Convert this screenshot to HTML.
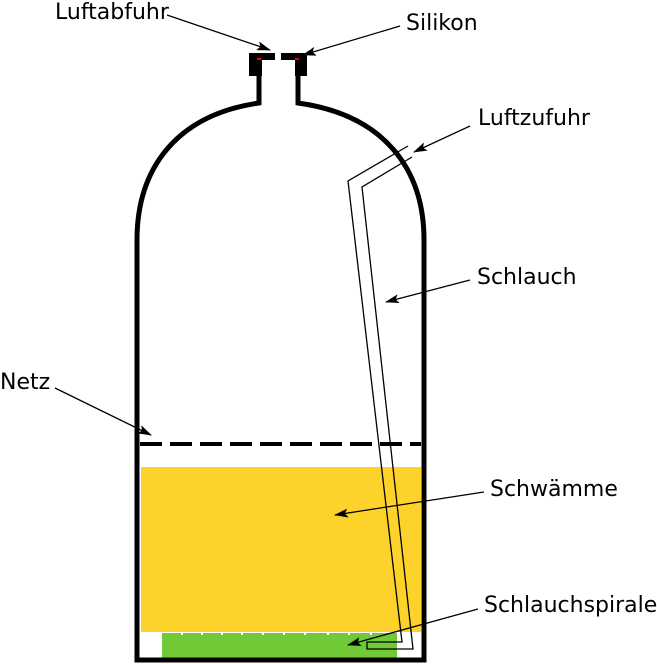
<!DOCTYPE html>
<html><head><meta charset="utf-8"><style>
html,body{margin:0;padding:0;background:#fff;}
svg{display:block;}
text{font-family:"DejaVu Sans","Liberation Sans",sans-serif;font-size:22px;fill:#000;}
</style></head><body>
<svg width="657" height="664" viewBox="0 0 657 664">
<defs><marker id="ah" markerWidth="14" markerHeight="9" refX="13" refY="4.5" orient="auto" markerUnits="userSpaceOnUse"><path d="M0,0 L14,4.5 L0,9 L3,4.5 Z" fill="#000"/></marker></defs>
<rect x="141" y="467" width="280" height="165" fill="#fdd22b"/>
<rect x="162" y="633" width="235" height="25" fill="#72c936"/>
<g fill="#fff">
<rect x="181" y="633" width="2" height="2"/><rect x="201" y="633" width="2" height="2"/><rect x="221" y="633" width="2" height="2"/><rect x="241" y="633" width="2" height="2"/><rect x="262" y="633" width="2" height="2"/><rect x="283" y="633" width="2" height="2"/><rect x="304" y="633" width="2" height="2"/><rect x="327" y="633" width="2" height="2"/><rect x="348" y="633" width="2" height="2"/><rect x="370" y="633" width="2" height="2"/></g>
<path d="M259,76 L259,103 C175,115 137,170 137,240 L137,660 L424,660 L424,240 C424,170 385,115 298,103 L298,76" fill="none" stroke="#000" stroke-width="5"/>
<path d="M249,53 H275 V60 H262 V76 H249 Z" fill="#000"/>
<path d="M281,53 H307 V76 H295 V60 H281 Z" fill="#000"/>
<rect x="257" y="58" width="4" height="2" fill="#e00"/>
<rect x="295" y="58" width="4" height="2" fill="#e00"/>
<line x1="140" y1="444" x2="421" y2="444" stroke="#000" stroke-width="4" stroke-dasharray="22,8"/>
<path d="M408,146 L348,181 L402,642 L367,642 L367,649 L413,649 L362,187 L412,157" fill="none" stroke="#000" stroke-width="1.3"/>
<g stroke="#000" stroke-width="1.3" fill="none">
<line x1="167" y1="15" x2="270" y2="50" marker-end="url(#ah)"/>
<line x1="400" y1="26" x2="303" y2="55" marker-end="url(#ah)"/>
<line x1="470" y1="126" x2="414" y2="152" marker-end="url(#ah)"/>
<line x1="470" y1="280" x2="386" y2="302" marker-end="url(#ah)"/>
<line x1="55" y1="388" x2="151" y2="435" marker-end="url(#ah)"/>
<line x1="484" y1="492" x2="335" y2="515" marker-end="url(#ah)"/>
<line x1="478" y1="609" x2="348" y2="645" marker-end="url(#ah)"/>
</g>
<text x="55" y="19">Luftabfuhr</text>
<text x="406" y="30">Silikon</text>
<text x="478" y="125">Luftzufuhr</text>
<text x="477" y="284">Schlauch</text>
<text x="0" y="389">Netz</text>
<text x="490" y="496">Schwämme</text>
<text x="484" y="612">Schlauchspirale</text>
</svg>
</body></html>
